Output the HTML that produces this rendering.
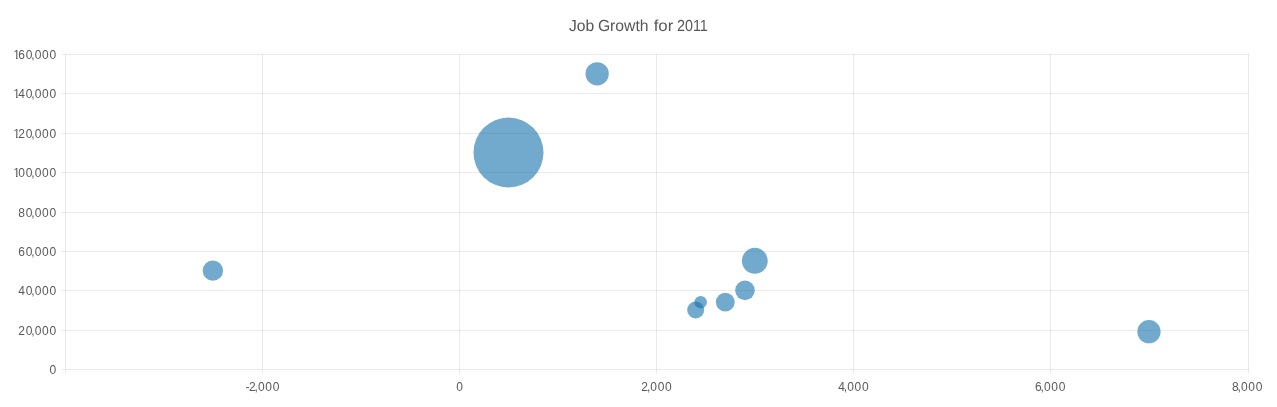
<!DOCTYPE html>
<html><head><meta charset="utf-8"><title>Job Growth for 2011</title>
<style>
html,body{margin:0;padding:0;background:#fff;overflow:hidden}
svg{will-change:transform}
svg text{font-family:"Liberation Sans",sans-serif}
.lb{font-size:12px;fill:#595959}
.tt{text-rendering:geometricPrecision;font-size:16px;fill:#575757}
</style></head><body>
<svg width="1277" height="407" viewBox="0 0 1277 407" style="display:block">
<rect width="1277" height="407" fill="#fff"/>
<defs><clipPath id="c1"><path d="M12 -10H18.5V-1H17.6V0.6H16V-1H12Z"/></clipPath></defs>
<g stroke="#000" stroke-opacity="0.08" stroke-width="1" fill="none">
<path d="M61.5 54.5H1249.0"/>
<path d="M61.5 93.5H1249.0"/>
<path d="M61.5 133.5H1249.0"/>
<path d="M61.5 172.5H1249.0"/>
<path d="M61.5 212.5H1249.0"/>
<path d="M61.5 251.5H1249.0"/>
<path d="M61.5 290.5H1249.0"/>
<path d="M61.5 330.5H1249.0"/>
<path d="M61.5 369.5H1249.0"/>
<path d="M65.5 54.0V373.5"/>
<path d="M262.5 54.0V373.5"/>
<path d="M459.5 54.0V373.5"/>
<path d="M656.5 54.0V373.5"/>
<path d="M853.5 54.0V373.5"/>
<path d="M1050.5 54.0V373.5"/>
<path d="M1248.5 54.0V373.5"/>
</g>
<g transform="translate(0,59)"><g clip-path="url(#c1)"><text x="13.28" y="0" class="lb">1</text></g><text x="18.34 25.73 31.30 34.65 42.00 49.45" y="0" class="lb">60,000</text></g>
<g transform="translate(0,98)"><g clip-path="url(#c1)"><text x="13.28" y="0" class="lb">1</text></g><text x="18.34 25.73 31.30 34.65 42.00 49.45" y="0" class="lb">40,000</text></g>
<g transform="translate(0,138)"><g clip-path="url(#c1)"><text x="13.28" y="0" class="lb">1</text></g><text x="18.34 25.73 31.30 34.65 42.00 49.45" y="0" class="lb">20,000</text></g>
<g transform="translate(0,177)"><g clip-path="url(#c1)"><text x="13.28" y="0" class="lb">1</text></g><text x="18.34 25.73 31.30 34.65 42.00 49.45" y="0" class="lb">00,000</text></g>
<text x="18.34 25.73 31.30 34.65 42.00 49.45" y="217" class="lb">80,000</text>
<text x="18.34 25.73 31.30 34.65 42.00 49.45" y="256" class="lb">60,000</text>
<text x="18.34 25.73 31.30 34.65 42.00 49.45" y="295" class="lb">40,000</text>
<text x="18.34 25.73 31.30 34.65 42.00 49.45" y="335" class="lb">20,000</text>
<text x="49.45" y="374" class="lb">0</text>
<text x="245.43 248.97 254.54 257.89 265.24 272.69" y="391" class="lb">-2,000</text>
<text x="456.16" y="391" class="lb">0</text>
<text x="641.37 646.94 650.29 657.64 665.09" y="391" class="lb">2,000</text>
<text x="838.27 843.84 847.19 854.54 861.99" y="391" class="lb">4,000</text>
<text x="1034.97 1040.54 1043.89 1051.24 1058.69" y="391" class="lb">6,000</text>
<text x="1231.97 1237.54 1240.89 1248.24 1255.69" y="391" class="lb">8,000</text>
<text x="569.0" y="31.0" textLength="25.2" lengthAdjust="spacingAndGlyphs" class="tt">Job</text>
<text x="597.9" y="31.0" textLength="50.6" lengthAdjust="spacingAndGlyphs" class="tt">Growth</text>
<text x="653.7" y="31.0" textLength="19.6" lengthAdjust="spacingAndGlyphs" class="tt">for</text>
<text x="677.0" y="31.0" textLength="30.8" lengthAdjust="spacingAndGlyphs" class="tt">2011</text>
<circle cx="212.88" cy="270.64" r="10.20" fill="#1271aa" fill-opacity="0.6"/>
<circle cx="508.49" cy="152.52" r="35.00" fill="#1271aa" fill-opacity="0.6"/>
<circle cx="1148.98" cy="331.67" r="11.64" fill="#1271aa" fill-opacity="0.6"/>
<circle cx="597.17" cy="73.77" r="11.64" fill="#1271aa" fill-opacity="0.6"/>
<circle cx="695.71" cy="310.02" r="8.51" fill="#1271aa" fill-opacity="0.6"/>
<circle cx="700.64" cy="302.14" r="6.26" fill="#1271aa" fill-opacity="0.6"/>
<circle cx="725.27" cy="302.14" r="9.39" fill="#1271aa" fill-opacity="0.6"/>
<circle cx="744.98" cy="290.33" r="9.80" fill="#1271aa" fill-opacity="0.6"/>
<circle cx="754.83" cy="260.80" r="12.93" fill="#1271aa" fill-opacity="0.6"/>
</svg>
</body></html>
